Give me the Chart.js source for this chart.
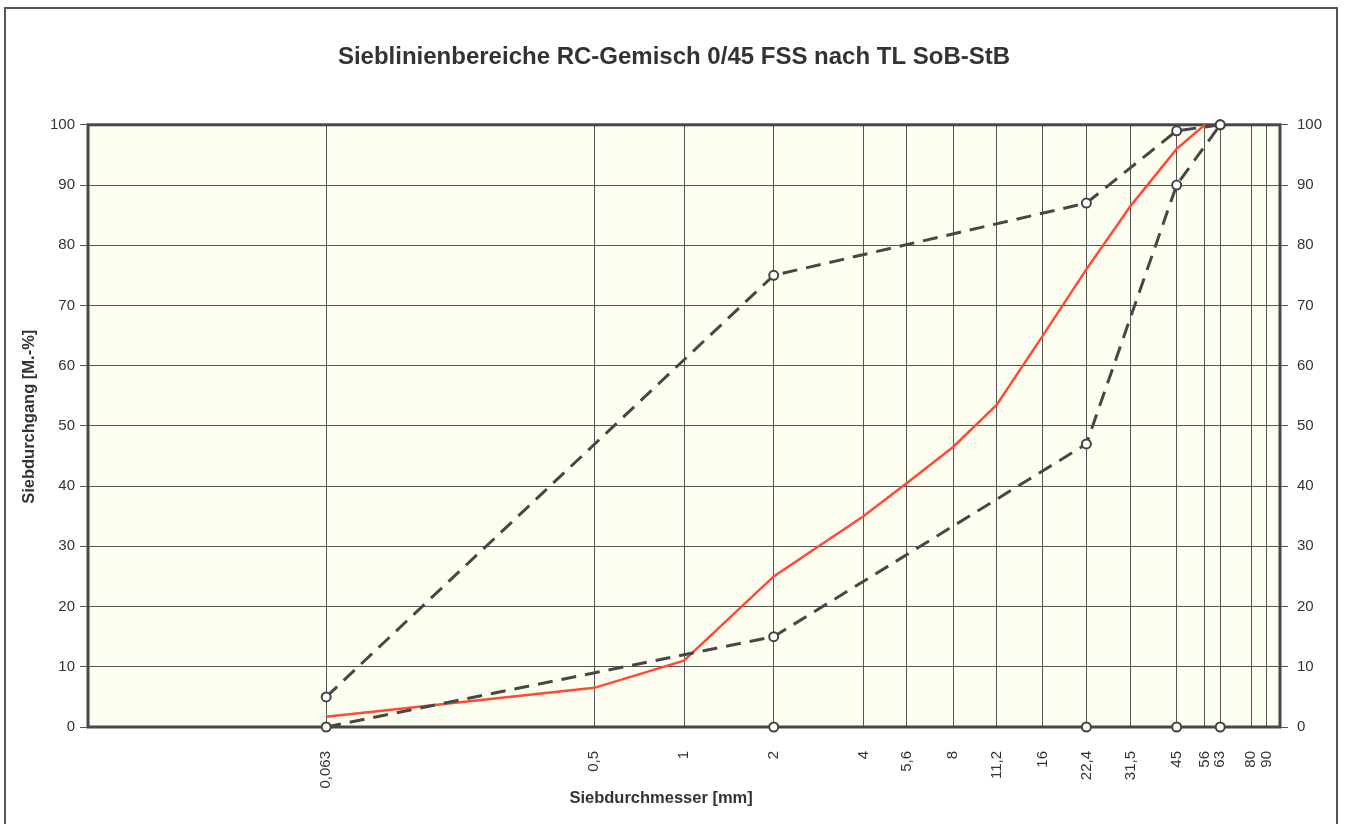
<!DOCTYPE html>
<html>
<head>
<meta charset="utf-8">
<script src="https://cdn.jsdelivr.net/npm/chart.js@4.4.0/dist/chart.umd.min.js"></script>
<style>
  html, body { margin:0; padding:0; background:#fff; overflow:hidden; }
  #wrap { position:relative; width:1348px; height:824px; }
  #frame { position:absolute; left:4px; top:7px; width:1330px; height:820px; border:2px solid #555; border-bottom:none; pointer-events:none; }
</style>
</head>
<body>
<div id="wrap">
  <canvas id="chart" width="1348" height="824"></canvas>
  <div id="frame"></div>
</div>
<script>
/* Sieblinie RC-Gemisch 0/45 FSS: Grenzlinien + Probe */
const FONT = '"Liberation Sans", Arial, sans-serif';

// x-axis sieve sizes (mm) and their labels
const sieveTicks  = [0.063, 0.5, 1, 2, 4, 5.6, 8, 11.2, 16, 22.4, 31.5, 45, 56, 63, 80, 90];
const sieveLabels = ['0,063','0,5','1','2','4','5,6','8','11,2','16','22,4','31,5','45','56','63','80','90'];

// grading limits (TL SoB-StB)
const limitX = [0.063, 2, 22.4, 45, 63];
const upperY = [5, 75, 87, 99, 100];
const lowerY = [0, 15, 47, 90, 100];

// markers sitting on the 0 line
const baseX = [2, 22.4, 45, 63];
const baseY = [0, 0, 0, 0];

// sample grading curve (red)
const sampleX = [0.063, 0.5, 1, 2, 4, 5.6, 8, 11.2, 16, 22.4, 31.5, 45, 56];
const sampleY = [1.7, 6.5, 11, 25, 35, 40.5, 46.5, 53.5, 65, 76, 86.5, 96, 100];

const pts = (xs, ys) => xs.map((x, i) => ({ x, y: ys[i] }));

const limitStyle = {
  borderColor:'#474747', borderWidth:3, borderDash:[15,9], tension:0,
  pointRadius:4.5, pointBackgroundColor:'#fff', pointBorderColor:'#444', pointBorderWidth:2,
  clip:8,
};

const plotFrame = {
  id:'plotFrame',
  beforeDraw(chart) {
    const { ctx, chartArea:a } = chart;
    ctx.save();
    ctx.fillStyle = '#fefef0';
    ctx.fillRect(a.left, a.top, a.width, a.height);
    ctx.restore();
  },
  beforeDatasetsDraw(chart) {
    const { ctx, chartArea:a } = chart;
    ctx.save();
    ctx.strokeStyle = '#474747';
    ctx.lineWidth = 3;
    ctx.strokeRect(a.left, a.top, a.width, a.height);
    ctx.restore();
  }
};

const tickFont = { family:FONT, size:15 };

new Chart(document.getElementById('chart'), {
  type:'line',
  data:{
    datasets:[
      { label:'obere Grenze', data:pts(limitX, upperY), ...limitStyle },
      { label:'untere Grenze', data:pts(limitX, lowerY), ...limitStyle },
      { label:'Null', data:pts(baseX, baseY), ...limitStyle, showLine:false },
      { label:'Probe', data:pts(sampleX, sampleY), borderColor:'#ff4a35', borderWidth:2.5, pointRadius:0, tension:0, clip:8 },
    ]
  },
  options:{
    responsive:false, animation:false,
    layout:{ padding:0 },
    plugins:{
      legend:{ display:false },
      tooltip:{ enabled:false },
      title:{ display:true, text:'Sieblinienbereiche RC-Gemisch 0/45 FSS nach TL SoB-StB', color:'#333',
        font:{ family:FONT, size:24, weight:'bold' }, padding:{ top:43, bottom:53 } },
    },
    scales:{
      x:{
        type:'logarithmic', min:0.01, max:100, position:'bottom',
        afterBuildTicks:(s) => { s.ticks = sieveTicks.map((v) => ({ value:v })); },
        afterFit:(s) => { s.height = 97; },
        grid:{ color:'#555', lineWidth:1, drawTicks:false },
        border:{ display:false },
        ticks:{ autoSkip:false, minRotation:90, maxRotation:90, padding:24, color:'#333', font:tickFont,
          callback:(v, i) => sieveLabels[i] },
        // padding spaces nudge the centred titles off-centre, as in the original sheet
        title:{ display:true, text:'Siebdurchmesser [mm]\u00a0\u00a0\u00a0\u00a0\u00a0\u00a0\u00a0\u00a0\u00a0\u00a0', color:'#333',
          font:{ family:FONT, size:16.5, weight:'bold' }, padding:{ top:4, bottom:16 } },
      },
      y:{
        min:0, max:100, position:'left',
        afterFit:(s) => { s.width = 88; },
        grid:{ color:'#555', lineWidth:1, tickLength:8 },
        border:{ display:false },
        ticks:{ stepSize:10, padding:5, color:'#333', font:tickFont },
        title:{ display:true, text:'\u00a0\u00a0\u00a0\u00a0Siebdurchgang [M.-%]', color:'#333', font:{ family:FONT, size:16.5, weight:'bold' }, padding:{ top:20, bottom:0 } },
      },
      y2:{
        min:0, max:100, position:'right',
        afterFit:(s) => { s.width = 68; },
        grid:{ drawOnChartArea:false, color:'#555', lineWidth:1, tickLength:8 },
        border:{ display:false },
        ticks:{ stepSize:10, padding:9, color:'#333', font:tickFont },
      },
    },
  },
  plugins:[plotFrame],
});
</script>
</body>
</html>
